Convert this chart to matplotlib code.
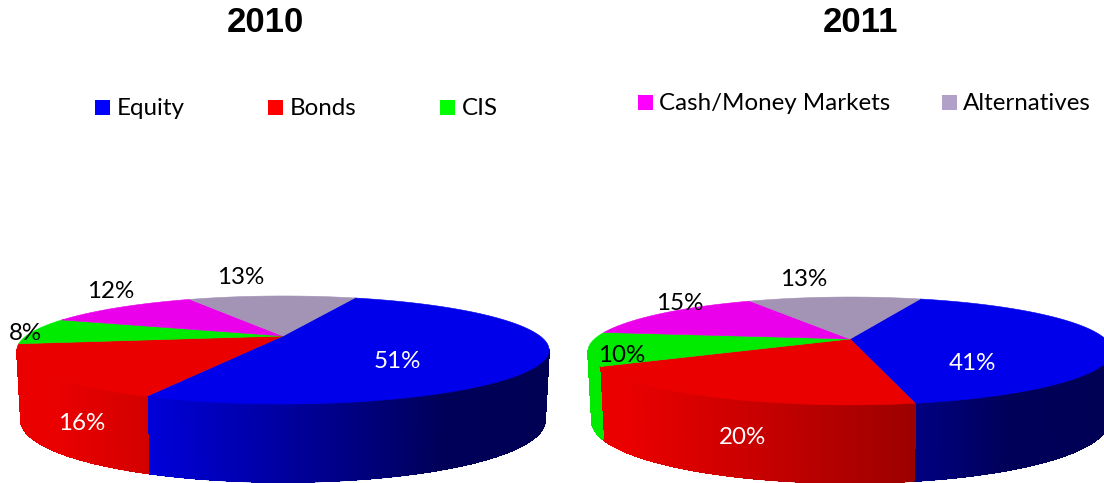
import numpy as np
import matplotlib
matplotlib.use("Agg")
import matplotlib.pyplot as plt
from matplotlib.collections import PolyCollection, LineCollection
from matplotlib.patches import Polygon, Rectangle

# ---- data ----
categories = ["Equity", "Bonds", "CIS", "Cash/Money Markets", "Alternatives"]
values_2010 = [51, 16, 8, 12, 13]
values_2011 = [41, 20, 10, 15, 13]
years = ["2010", "2011"]

# ---- style ----
top_colors = [(0, 0, 235), (235, 0, 0), (0, 235, 0), (235, 0, 235), (163, 147, 180)]
legend_colors = ["#0000ff", "#ff0000", "#00ff00", "#ff00ff", "#b1a0c7"]
LABEL_FONT = "Lato"
LABEL_SIZE = 17.4

# geometry of each pie: apex, in-plane radii, perspective, start angle
pies = [
    dict(cx=283, cy=336, W=257.0, H=50.4, k=0.259, start=69.7, depth=70, extra=8, shrink=0.985),
    dict(cx=850, cy=339, W=255.5, H=51.3, k=0.222, start=70.6, depth=70, extra=8, shrink=0.985),
]
label_xy = [
    [(397, 362), (82, 424), (25, 334), (111, 292), (241, 278)],
    [(972, 364), (742, 438), (622, 355), (680, 303), (804, 280)],
]
label_colors = [
    ["white", "white", "black", "black", "black"],
    ["white", "white", "black", "black", "black"],
]
title_xy = [(265, 23), (860, 23)]
legend_items = [(95, 100, 117), (268, 100, 290), (440, 100, 462), (638, 95, 659), (942, 95, 963)]
# side-wall brightness against position across the pie (0 = left edge, 1 = right edge)
shade_x = [0.0, 0.06, 0.24, 0.63, 0.80, 1.0]
shade_y = [1.0, 1.0, 0.90, 0.66, 0.38, 0.36]
blue_shade_y = [1.0, 1.0, 0.93, 0.55, 0.38, 0.36]


def project(p, t):
    u, v = np.cos(t), np.sin(t)
    d = 1 + p["k"] * v
    return p["cx"] + p["W"] * u / d, p["cy"] - p["H"] * v / d


def base(p, t):
    x, y = project(p, t)
    v = np.sin(t)
    x = p["cx"] + (x - p["cx"]) * p["shrink"]
    return x, y + p["depth"] + p["extra"] * np.clip(-v - p["k"], 0, None) / (1 - p["k"])


fig = plt.figure(figsize=(11.04, 4.83), dpi=100)
ax = fig.add_axes([0, 0, 1, 1])
ax.set_xlim(0, 1104)
ax.set_ylim(483, 0)
ax.axis("off")

for p, vals, labels_at, lab_cols, year, txy in zip(
    pies, [values_2010, values_2011], label_xy, label_colors, years, title_xy
):
    vals = np.asarray(vals, float)
    sweep = vals / vals.sum() * 2 * np.pi
    edges = np.radians(p["start"]) - np.concatenate([[0], np.cumsum(sweep)])
    # the wall is visible only on the front, between the two silhouette angles
    a = np.arcsin(p["k"])
    x_left = p["cx"] - p["W"] / np.sqrt(1 - p["k"] ** 2)
    span = 2 * p["W"] / np.sqrt(1 - p["k"] ** 2)
    vis_hi = -a            # right silhouette
    vis_lo = -np.pi + a    # left silhouette

    quads, cols, rim, rim_cols = [], [], [], []
    for i, color in enumerate(top_colors):
        t0, t1 = edges[i], edges[i + 1]  # t0 > t1, going clockwise
        for shift in (0, -2 * np.pi, 2 * np.pi):
            hi = min(t0 + shift, vis_hi)
            lo = max(t1 + shift, vis_lo)
            if hi <= lo:
                continue
            ts = np.linspace(hi, lo, max(2, int((hi - lo) / 0.006)))
            for s0, s1 in zip(ts[:-1], ts[1:]):
                xa, ya = project(p, s0)
                xb, yb = project(p, s1)
                xc, yc = base(p, s1)
                xd, yd = base(p, s0)
                quads.append([(xa, ya), (xb, yb), (xc, yc), (xd, yd)])
                f = (0.5 * (xa + xb) - x_left) / span
                sh = np.interp(f, shade_x, blue_shade_y if i == 0 else shade_y)
                col = tuple(c / 255 * sh for c in color)
                cols.append(col)
                rim.append([(xd, yd), (xc, yc)])
                rim_cols.append(col)
    # solid fill without seams, then a smooth line along the wall's lower edge
    ax.add_collection(PolyCollection(quads, facecolors=cols, edgecolors=cols,
                                     linewidths=0.6, antialiaseds=False))
    ax.add_collection(LineCollection(rim, colors=rim_cols, linewidths=1.0, capstyle="round"))

    for i, color in enumerate(top_colors):
        ts = np.linspace(edges[i], edges[i + 1], 200)
        xs, ys = project(p, ts)
        poly = [(p["cx"], p["cy"])] + list(zip(xs, ys))
        c = tuple(v / 255 for v in color)
        ax.add_patch(Polygon(poly, closed=True, facecolor=c, edgecolor=c, linewidth=0.4))

    for value, (lx, ly), col in zip(vals, labels_at, lab_cols):
        ax.text(lx, ly, f"{value:.0f}%", color=col, ha="center", va="center",
                family=LABEL_FONT, fontsize=LABEL_SIZE)
    ax.text(txy[0], txy[1], year, ha="center", va="center", family="Liberation Sans",
            fontweight="bold", fontsize=25, color="black")

for name, col, (sx, sy, tx) in zip(categories, legend_colors, legend_items):
    ax.add_patch(Rectangle((sx, sy), 15, 15, facecolor=col, edgecolor="none"))
    ax.text(tx, sy + 8.5, name, ha="left", va="center", family=LABEL_FONT,
            fontsize=LABEL_SIZE, color="black")

fig.savefig("out.png", dpi=100)
